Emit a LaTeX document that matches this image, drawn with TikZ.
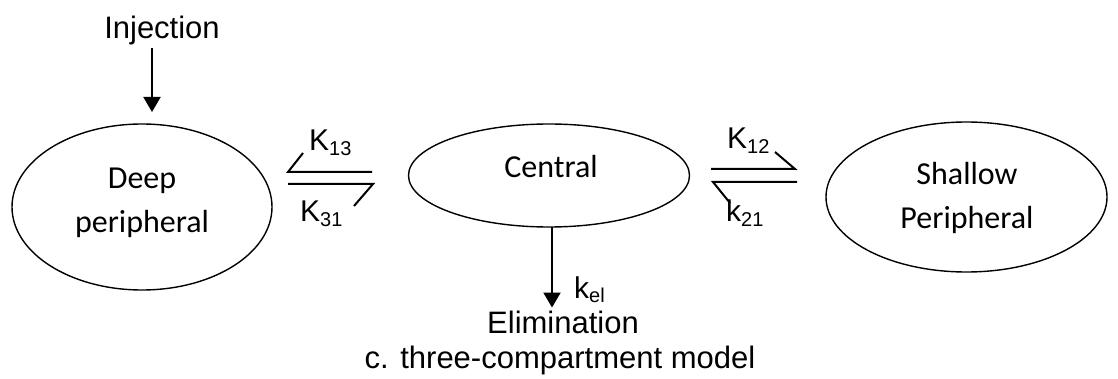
\documentclass[tikz,border=0pt]{standalone}
\usepackage{fontspec}
\setmainfont{Liberation Sans}
\newfontfamily\calfont{Carlito}
\usetikzlibrary{arrows.meta,shapes.geometric}
\newcommand\ksub[2]{#1\raisebox{-5pt}{\fontsize{20}{20}\selectfont #2}}
\begin{document}
\begin{tikzpicture}[x=1pt,y=-1pt,
  comp/.style={ellipse, draw, line width=1.4pt, inner sep=0pt, outer sep=0pt},
  ctext/.style={font=\calfont\fontsize{32}{44}\selectfont, align=center, inner sep=0pt},
  atext/.style={font=\fontsize{31}{31}\selectfont, inner sep=0pt, outer sep=0pt},
  ktext/.style={font=\fontsize{30}{30}\selectfont, inner sep=0pt, anchor=base west},
  arr/.style={line width=2pt, -{Triangle[width=17pt,length=15pt]}},
  harp/.style={line width=2pt}]
\useasboundingbox (0,0) rectangle (1118,379);

% compartments
\node[comp, minimum width=260pt, minimum height=166pt] (deep) at (142,207) {};
\node[comp, minimum width=281pt, minimum height=103pt] (central) at (549,175.5) {};
\node[comp, minimum width=281pt, minimum height=150pt] (shallow) at (966.5,197) {};

\node[ctext] (deeptxt) at (142,203) {Deep\\peripheral};
\node[ctext, anchor=base] (centraltxt) at (551,178) {Central};
\node[ctext] (shallowtxt) at (967,198) {Shallow\\Peripheral};

% texts
\node[atext, anchor=base] (inj) at (162,39) {Injection};
\node[atext, anchor=base] (elim) at (563,333) {Elimination};
\node[atext, anchor=base] (caption) at (560,368) {c. three-compartment model};

% injection and elimination arrows
\coordinate (injx) at (152,0);
\coordinate (elimx) at (552,0);
\draw[arr, shorten <=3pt, shorten >=12pt] (inj.south -| injx) -- (deep.north -| injx);
\draw[arr, shorten >=3pt] (central.south -| elimx) -- (elim.north -| elimx);

% exchange harpoons
\coordinate (h1l) at (288,172); \coordinate (h1r) at (372,172);
\coordinate (h2l) at (288,184); \coordinate (h2r) at (373,184);
\coordinate (h3l) at (711,169); \coordinate (h3r) at (795,169);
\coordinate (h4l) at (713,182); \coordinate (h4r) at (797,182);
\draw[harp] (h1r) -- (h1l) -- ++(15,-19);
\draw[harp] (h2l) -- (h2r) -- ++(-19,22);
\draw[harp] (h3l) -- (h3r) -- ++(-20,-17);
\draw[harp] (h4r) -- (h4l) -- ++(17,21);

% rate constants
\node[ktext] (k13) at (309,151) {\ksub{K}{13}};
\node[ktext] (k31) at (300,222) {\ksub{K}{31}};
\node[ktext] (k12) at (727,149) {\ksub{K}{12}};
\node[ktext] (k21) at (726,222) {\ksub{k}{21}};
\node[ktext] (kel) at (574,298) {\ksub{k}{el}};
\end{tikzpicture}
\end{document}
